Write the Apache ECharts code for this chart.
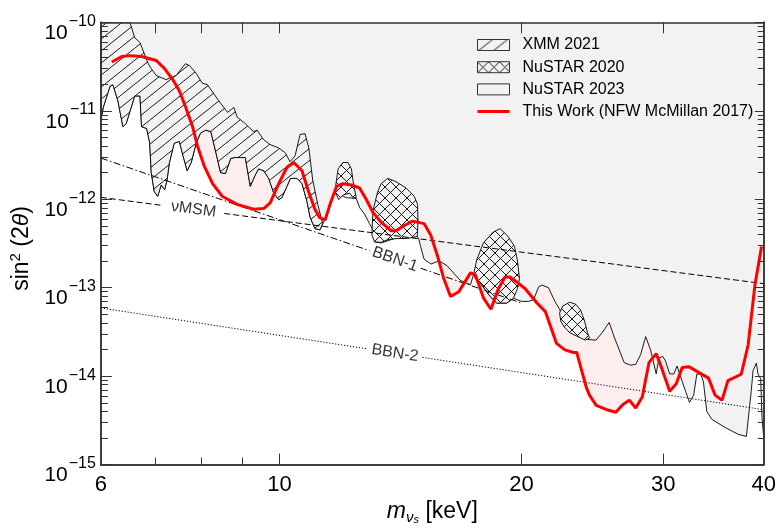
<!DOCTYPE html>
<html><head><meta charset="utf-8">
<script src="https://cdn.jsdelivr.net/npm/echarts@6/dist/echarts.min.js"></script>
<style>html,body{margin:0;padding:0;background:#fff}#c{width:779px;height:530px}</style>
</head><body><div id="c"></div>
<script>
const FONT = '"Liberation Sans", Arial, Helvetica, sans-serif';

// ---------- axes ----------
const xRange = [6, 40];
const yRange = [1e-15, 1e-10];
const xLabelValues = [6, 10, 20, 30, 40];
const xMajorTicks = [10, 20, 30];
const xMinorTicks = [7, 8, 9];
const yMajorTicks = [1e-15, 1e-14, 1e-13, 1e-12, 1e-11, 1e-10];
const yMinorMultipliers = [2, 3, 4, 5, 6, 7, 8, 9];
const yDecades = [-15, -14, -13, -12, -11];

// ---------- data: [m (keV), sin^2(2theta)] ----------
const thisWork = [[6.19,3.56e-11],[6.37,4.1e-11],[6.52,4.2e-11],[6.74,4.1e-11],[7.03,3.7e-11],[7.2,3.0e-11],[7.37,2.25e-11],[7.51,1.68e-11],[7.65,1.09e-11],[7.8,6.6e-12],[7.91,4.0e-12],[8.06,2.4e-12],[8.26,1.5e-12],[8.49,1.08e-12],[8.86,8.75e-13],[9.29,7.7e-13],[9.56,7.85e-13],[9.74,9.1e-13],[9.98,1.5e-12],[10.22,2.3e-12],[10.42,2.6e-12],[10.67,2.1e-12],[10.87,1.22e-12],[11.07,7.7e-13],[11.23,6.15e-13],[11.4,5.85e-13],[11.56,8.75e-13],[11.78,1.4e-12],[11.99,1.5e-12],[12.29,1.45e-12],[12.58,1.34e-12],[12.82,1.0e-12],[13.07,7.1e-13],[13.38,5.5e-13],[13.77,4.4e-13],[13.96,4.4e-13],[14.3,5.05e-13],[14.64,5.65e-13],[15.13,5.3e-13],[15.42,3.95e-13],[15.72,2.3e-13],[16.01,1.26e-13],[16.32,7.95e-14],[16.71,9.0e-14],[17.28,1.47e-13],[17.52,1.4e-13],[17.94,7.6e-14],[18.32,5.7e-14],[18.72,9.8e-14],[19.08,1.32e-13],[19.35,1.32e-13],[19.72,1.16e-13],[20.2,9.8e-14],[20.9,6.7e-14],[21.4,5.4e-14],[22.1,2.35e-14],[22.64,1.98e-14],[23.2,1.85e-14],[23.42,1.85e-14],[24.06,7.55e-15],[24.29,6.1e-15],[24.76,4.67e-15],[25.47,4.2e-15],[26.2,3.9e-15],[26.71,4.75e-15],[27.22,5.35e-15],[27.73,4.35e-15],[28.26,5.85e-15],[28.8,1.42e-14],[29.4,1.8e-14],[29.9,1.2e-14],[30.56,6.75e-15],[31.14,8.2e-15],[31.67,1.25e-14],[32.27,1.28e-14],[34.15,9.5e-15],[34.8,6.1e-15],[35.5,5.35e-15],[36.1,8.9e-15],[37.5,1.05e-14],[38.25,2.25e-14],[39.0,1.07e-13],[39.75,2.93e-13]];

const xmm2021Upper = [[6,1e-10],[6.52,1e-10],[6.61,6.7e-11],[6.71,5.9e-11],[6.87,3.4e-11],[6.93,3.0e-11],[7.03,2.5e-11],[7.23,2.25e-11],[7.44,2.5e-11],[7.64,3.4e-11],[7.73,3.25e-11],[7.88,2.65e-11],[8.02,2.05e-11],[8.14,1.97e-11],[8.38,1.35e-11],[8.62,9.6e-12],[8.78,1.09e-11],[8.86,8.5e-12],[9.07,7.15e-12],[9.29,5.8e-12],[9.38,6.05e-12],[9.56,4.7e-12],[9.74,4.15e-12],[9.98,3.8e-12],[10.17,3.35e-12],[10.31,2.65e-12],[10.46,3.1e-12],[10.61,5.4e-12],[10.76,5.5e-12],[10.88,3.8e-12],[11.0,1.65e-12],[11.16,8.75e-13],[11.32,5.3e-13]];
const xmm2021Lower = [[6,7.8e-12],[6.04,1.09e-11],[6.16,1.9e-11],[6.21,1.97e-11],[6.3,1.29e-11],[6.39,6.6e-12],[6.45,7.15e-12],[6.61,1.47e-11],[6.71,1.47e-11],[6.74,6.6e-12],[6.84,6.3e-12],[6.9,4.3e-12],[6.93,2.0e-12],[6.99,1.22e-12],[7.06,1.08e-12],[7.13,1.45e-12],[7.2,1.28e-12],[7.25,1.65e-12],[7.3,2.6e-12],[7.4,4.3e-12],[7.51,4.5e-12],[7.59,3.1e-12],[7.68,2.1e-12],[7.77,2.6e-12],[7.88,4.3e-12],[7.98,5.6e-12],[8.1,6.05e-12],[8.22,5.8e-12],[8.34,3.35e-12],[8.45,2.0e-12],[8.57,1.95e-12],[8.7,2.9e-12],[8.81,2.96e-12],[9.07,2.96e-12],[9.2,1.4e-12],[9.33,1.87e-12],[9.42,2.2e-12],[9.56,2.1e-12],[9.7,1.72e-12],[9.84,1.17e-12],[9.98,9.9e-13],[10.07,1.04e-12],[10.22,1.4e-12],[10.32,1.72e-12],[10.52,1.72e-12],[10.67,1.5e-12],[10.82,9.5e-13],[10.92,6.25e-13],[11.07,4.65e-13],[11.23,4.5e-13]];

const nustar2023Lower = [[11.35,5.5e-13],[11.51,7.4e-13],[11.68,1.12e-12],[11.78,1.18e-12],[12.11,1.04e-12],[12.46,1.02e-12],[12.58,8.05e-13],[12.76,6.8e-13],[12.94,5.3e-13],[13.07,4.5e-13],[13.13,3.3e-13],[13.38,3.2e-13],[13.9,3.6e-13],[14.84,3.8e-13],[14.91,3.5e-13],[14.98,2.93e-13],[15.13,2.1e-13],[15.43,1.85e-13],[15.66,1.95e-13],[15.81,2.0e-13],[16.16,1.77e-13],[16.55,1.39e-13],[16.78,1.21e-13],[17.28,1.08e-13],[17.44,1.43e-13],[17.85,1.07e-13],[18.28,7.95e-14],[18.63,6.7e-14],[19.17,6.7e-14],[19.54,7.6e-14],[20.0,7.0e-14],[20.4,7.0e-14],[20.7,7.3e-14],[21.0,1.02e-13],[21.2,1.07e-13],[21.6,1.0e-13],[22.0,7.0e-14],[22.3,5.7e-14],[22.75,3.45e-14],[23.74,2.77e-14],[24.15,2.6e-14],[24.75,2.55e-14],[25.22,3.15e-14],[25.7,4.05e-14],[26.07,2.77e-14],[26.45,1.98e-14],[26.83,1.42e-14],[27.34,1.33e-14],[27.73,1.36e-14],[28.12,1.75e-14],[28.53,2.8e-14],[28.93,1.98e-14],[29.4,1.06e-14],[29.63,1.6e-14],[29.96,1.67e-14],[30.2,1.48e-14],[30.55,1.06e-14],[30.93,1.06e-14],[31.21,1.3e-14],[31.5,1.01e-14],[31.95,6.9e-15],[32.34,5.05e-15],[32.73,6.1e-15],[33.03,1.06e-14],[33.41,1.05e-14],[33.66,8.55e-15],[33.98,4.0e-15],[34.47,3.25e-15],[35.81,2.63e-15],[37.17,2.2e-15],[38.06,2.08e-15],[38.6,6.9e-15],[38.79,1.15e-14],[39.16,1.4e-14],[39.35,1.05e-14],[39.65,9.3e-15],[39.8,3.4e-15],[40,2.0e-15]];

const nustar2020A = [[11.72,1.22e-12],[11.83,2.2e-12],[11.99,2.6e-12],[12.17,2.6e-12],[12.29,2.2e-12],[12.35,1.58e-12],[12.46,1.04e-12],[12.35,1.04e-12],[12.23,1.17e-12],[12.01,1.12e-12],[11.85,9.9e-13]];
const nustar2020B = [[13.03,3.95e-13],[13.07,7.4e-13],[13.25,1.22e-12],[13.38,1.5e-12],[13.64,1.72e-12],[13.96,1.58e-12],[14.37,1.34e-12],[14.71,1.08e-12],[14.85,8.75e-13],[14.87,5.7e-13],[14.84,3.8e-13],[14.43,3.6e-13],[14.02,3.6e-13],[13.64,3.5e-13],[13.38,3.25e-13],[13.13,3.3e-13]];
const nustar2020C = [[17.44,1.43e-13],[17.6,2.1e-13],[17.93,3.2e-13],[18.44,4.25e-13],[18.81,4.65e-13],[19.24,3.8e-13],[19.6,2.93e-13],[19.77,2.0e-13],[19.88,1.26e-13],[19.77,9.8e-14],[19.54,7.6e-14],[19.17,6.7e-14],[18.63,6.7e-14],[18.28,7.95e-14],[17.85,1.07e-13],[17.52,1.26e-13]];
const nustar2020D = [[22.3,5.2e-14],[22.5,6.2e-14],[22.95,6.85e-14],[23.35,6.5e-14],[23.68,5.6e-14],[23.95,4.2e-14],[24.15,3.1e-14],[24.29,2.7e-14],[24.01,2.55e-14],[23.48,2.8e-14],[22.95,3.1e-14],[22.57,3.65e-14],[22.37,4.2e-14]];

// reference lines, split where the inline label sits
const nuMSMLeft = [[6,1.05e-12],[7.16,8.5e-13]];
const nuMSMRight = [[8.54,6.9e-13],[40,1.11e-13]];
const bbn1Left = [[6,2.92e-12],[12.94,2.62e-13]];
const bbn1Right = [[14.98,1.66e-13],[20,6.7e-14]];
const bbn2Left = [[6,5.9e-14],[12.88,2.03e-14]];
const bbn2Right = [[15.06,1.63e-14],[40,4.17e-15]];
const lineLabels = [
  {text: 'νMSM', at: [7.82, 7.67e-13], angle: -7.6},
  {text: 'BBN-1', at: [13.92, 2.09e-13], angle: -19.4},
  {text: 'BBN-2', at: [13.92, 1.82e-14], angle: -8.9}
];

// ---------- build ----------
function makeHatch(w, h, kinds) {
  const c = document.createElement('canvas');
  c.width = w; c.height = h;
  const g = c.getContext('2d');
  g.fillStyle = '#f2f2f2'; g.fillRect(0, 0, w, h);
  g.strokeStyle = '#1a1a1a'; g.lineWidth = 1;
  g.beginPath();
  kinds.forEach(k => [-w, 0, w].forEach(o => {
    if (k === '/') { g.moveTo(o, h); g.lineTo(o + w, 0); }
    else { g.moveTo(o, 0); g.lineTo(o + w, h); }
  }));
  g.stroke();
  return c;
}
const hatchXMM = {image: makeHatch(15, 12, ['/']), repeat: 'repeat'};
const hatchCross = {image: makeHatch(11, 11, ['/', '\\']), repeat: 'repeat'};

const yTop = yRange[1];
const envelope = xmm2021Lower.concat(nustar2023Lower);
const grayPoly = envelope.concat([[40, yTop], [6, yTop]]);
const pinkPoly = thisWork.concat([[thisWork[thisWork.length - 1][0], yTop], [thisWork[0][0], yTop]]);
const xmmPoly = xmm2021Upper.concat(xmm2021Lower.slice().reverse());

function polygonSeries(name, pts, fill, stroke, z, outline) {
  return {
    type: 'custom', name: name, coordinateSystem: 'cartesian2d', clip: true, z: z, silent: true,
    data: pts, encode: {x: 0, y: 1},
    renderItem: function (params, api) {
      if (params.dataIndex !== 0) return null;
      const poly = pts.map(p => api.coord(p));
      const children = [{type: 'polygon', shape: {points: poly},
        style: {fill: fill, stroke: stroke ? '#000' : null, lineWidth: 0.9}}];
      if (outline) {
        children.push({type: 'polyline', shape: {points: outline.map(p => api.coord(p))},
          style: {fill: null, stroke: '#000', lineWidth: 0.9}});
      }
      return {type: 'group', children: children};
    }
  };
}
function refLine(pts, dash) {
  return {type: 'line', data: pts, symbol: 'none', silent: true, z: 4,
    lineStyle: {color: '#000', width: 1, type: dash}, animation: false};
}

const yMinorTicks = [];
yDecades.forEach(e => yMinorMultipliers.forEach(k => yMinorTicks.push(k * Math.pow(10, e))));

const axisLineStyle = {color: '#333', width: 1.5};
function xAxisDef(pos, ticks, len, withLabels) {
  const a = {type: 'log', logBase: 10, min: xRange[0], max: xRange[1], position: pos, z: 10,
    axisLine: {show: true, lineStyle: axisLineStyle},
    axisTick: {show: true, inside: true, length: len, customValues: ticks, lineStyle: {color: '#333', width: 1}},
    axisLabel: {show: false}, splitLine: {show: false}, minorTick: {show: false}};
  if (withLabels) {
    a.axisLabel = {show: true, customValues: xLabelValues, margin: 9, color: '#000',
      fontSize: 22, fontFamily: FONT, formatter: v => String(Math.round(v))};
    a.name = '{m|m}{nu|ν}{s|s}{t| [keV]}';
    a.nameLocation = 'middle';
    a.nameGap = 33;
    a.nameTextStyle = {color: '#000', rich: {
      m: {fontSize: 23, fontStyle: 'italic', fontFamily: FONT, color: '#000', lineHeight: 26},
      nu: {fontSize: 15, fontStyle: 'italic', fontFamily: FONT, color: '#000', verticalAlign: 'bottom', lineHeight: 16},
      s: {fontSize: 11, fontStyle: 'italic', fontFamily: FONT, color: '#000', verticalAlign: 'bottom', lineHeight: 9},
      t: {fontSize: 23, fontFamily: FONT, color: '#000', lineHeight: 26}}};
  }
  return a;
}
function yAxisDef(pos, ticks, len, withLabels) {
  const a = {type: 'log', logBase: 10, min: yRange[0], max: yRange[1], position: pos, z: 10,
    axisLine: {show: true, lineStyle: axisLineStyle},
    axisTick: {show: true, inside: true, length: len, customValues: ticks, lineStyle: {color: '#333', width: 1}},
    axisLabel: {show: false}, splitLine: {show: false}, minorTick: {show: false}};
  if (withLabels) {
    a.axisLabel = {show: true, customValues: yMajorTicks, margin: 5, padding: [22, 0, 0, 0],
      formatter: v => '{b|10}{e|−' + Math.abs(Math.round(Math.log10(v))) + '}',
      rich: {
        b: {fontSize: 21, fontFamily: FONT, color: '#000', lineHeight: 46},
        e: {fontSize: 16, fontFamily: FONT, color: '#000', lineHeight: 16, verticalAlign: 'top', padding: [3, 0, 0, 1]}}};
    a.name = '{t|sin}{sup|2}{t| (2}{it|θ}{t|)}';
    a.nameLocation = 'middle';
    a.nameGap = 60;
    a.nameRotate = 90;
    a.nameTextStyle = {color: '#000', padding: [0, 10, 0, 0], rich: {
      t: {fontSize: 23, fontFamily: FONT, color: '#000', lineHeight: 28},
      it: {fontSize: 23, fontStyle: 'italic', fontFamily: FONT, color: '#000', lineHeight: 28},
      sup: {fontSize: 15, fontFamily: FONT, color: '#000', lineHeight: 16, verticalAlign: 'top'}}};
  }
  return a;
}

const option = {
  animation: false,
  backgroundColor: '#fff',
  grid: {left: 97.7, right: 13.3, top: 22.3, bottom: 51.7, containLabel: false},
  xAxis: [
    xAxisDef('bottom', xMajorTicks, 11, true),
    xAxisDef('bottom', xMinorTicks, 7, false),
    xAxisDef('top', xMajorTicks.concat(xMinorTicks), 11, false)
  ],
  yAxis: [
    yAxisDef('left', yMajorTicks, 11, true),
    yAxisDef('left', yMinorTicks, 7, false),
    yAxisDef('right', yMajorTicks, 9, false),
    yAxisDef('right', yMinorTicks, 6, false)
  ],
  legend: {
    orient: 'vertical', left: 476, top: 37, padding: 0, itemWidth: 32, itemHeight: 11, itemGap: 6.2,
    selectedMode: false, z: 20,
    textStyle: {fontSize: 16, fontFamily: FONT, color: '#000', padding: [0, 0, 0, 8]},
    data: [
      {name: 'XMM 2021', icon: 'rect', itemStyle: {color: hatchXMM, borderColor: '#333', borderWidth: 1}},
      {name: 'NuSTAR 2020', icon: 'rect', itemStyle: {color: hatchCross, borderColor: '#333', borderWidth: 1}},
      {name: 'NuSTAR 2023', icon: 'rect', itemStyle: {color: '#f2f2f2', borderColor: '#333', borderWidth: 1}},
      {name: 'This Work (NFW McMillan 2017)', itemStyle: {color: 'rgba(0,0,0,0)', borderColor: 'rgba(0,0,0,0)', borderWidth: 0},
        lineStyle: {color: '#ff0000', width: 3}}
    ]
  },
  series: [
    polygonSeries('pink', pinkPoly, '#fdeeee', false, 1, null),
    polygonSeries('NuSTAR 2023', grayPoly, '#f2f2f2', false, 2, envelope),
    polygonSeries('XMM 2021', xmmPoly, hatchXMM, true, 3, null),
    polygonSeries('NuSTAR 2020', nustar2020A, hatchCross, true, 3, null),
    polygonSeries('NuSTAR 2020', nustar2020B, hatchCross, true, 3, null),
    polygonSeries('NuSTAR 2020', nustar2020C, hatchCross, true, 3, null),
    polygonSeries('NuSTAR 2020', nustar2020D, hatchCross, true, 3, null),
    refLine(nuMSMLeft, [6, 3]), refLine(nuMSMRight, [6, 3]),
    refLine(bbn1Left, [7, 2.5, 1.5, 2.5]), refLine(bbn1Right, [7, 2.5, 1.5, 2.5]),
    refLine(bbn2Left, [1.2, 1.8]), refLine(bbn2Right, [1.2, 1.8]),
    {type: 'scatter', symbolSize: 0, silent: true, z: 5,
      data: lineLabels.map(l => ({value: l.at, label: {show: true, position: 'inside', formatter: l.text, rotate: l.angle,
        fontSize: 16, fontFamily: FONT, color: '#000'}}))},
    {type: 'line', name: 'This Work (NFW McMillan 2017)', data: thisWork, symbol: 'none', z: 6, silent: true,
      color: '#ff0000', lineStyle: {color: '#ff0000', width: 3}}
  ]
};
const chart = echarts.init(document.getElementById('c'));
chart.setOption(option);
</script></body></html>
